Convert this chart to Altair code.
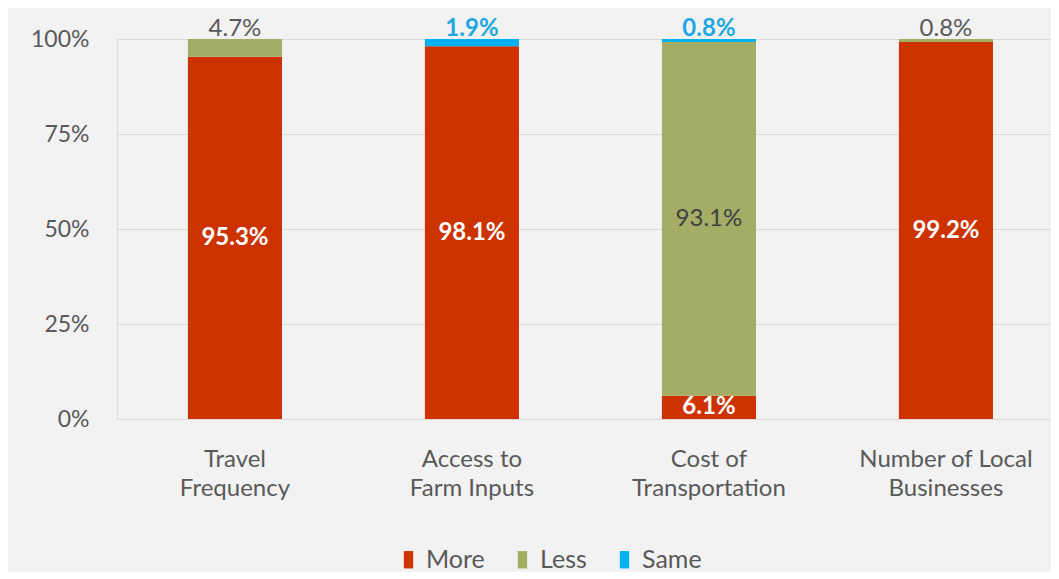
import altair as alt
import pandas as pd

categories = ["Travel|Frequency", "Access to|Farm Inputs", "Cost of|Transportation", "Number of Local|Businesses"]
series = ["More", "Less", "Same"]
more = [95.3, 98.1, 6.1, 99.2]
less = [4.7, 0.0, 93.1, 0.8]
same = [0.0, 1.9, 0.8, 0.0]
colors = ["#CC3300", "#A3AD66", "#00B0F0"]

rows = []
for i, c in enumerate(categories):
    for k, (s, vals) in enumerate(zip(series, [more, less, same])):
        rows.append({"cat": c, "series": s, "order": k, "value": vals[i]})
df = pd.DataFrame(rows)

FONT = "Lato"
GRAY = "#595959"

x_enc = alt.X("cat:N", sort=categories, title=None,
              scale=alt.Scale(paddingInner=0.603, paddingOuter=0.272, align=0.55),
              axis=alt.Axis(labelAngle=0, labelExpr="split(datum.label, '|')",
                            labelFontSize=24, labelColor=GRAY, labelPadding=28,
                            labelLineHeight=29, ticks=False, domainColor="#D9D9D9",
                            grid=False, labelFont=FONT))

base = alt.Chart(df).transform_filter("datum.value > 0")

bars = base.mark_bar().encode(
    x=x_enc,
    y=alt.Y("value:Q", stack="zero", scale=alt.Scale(domain=[0, 100]), title=None,
            axis=alt.Axis(values=[0, 25, 50, 75, 100], labelExpr="datum.value + '%'",
                          labelFontSize=23, labelColor=GRAY, labelPadding=28,
                          ticks=False, domain=False, gridColor="#D9D9D9",
                          labelFont=FONT)),
    color=alt.Color("series:N", sort=series,
                    scale=alt.Scale(domain=series, range=colors),
                    legend=alt.Legend(orient="none", legendX=279, legendY=508,
                                      direction="horizontal", title=None,
                                      symbolType="M-0.54,-1H0.54V1H-0.54Z",
                                      symbolSize=300, symbolStrokeWidth=0,
                                      labelFontSize=25, labelColor=GRAY,
                                      labelFont=FONT, labelOffset=5,
                                      columnPadding=25)),
    order=alt.Order("order:Q"),
)

lab = base.transform_stack(
    stack="value", groupby=["cat"], as_=["y0", "y1"],
    sort=[alt.SortField("order", order="ascending")]
).transform_calculate(
    mid="(datum.y0 + datum.y1) / 2",
    txt="format(datum.value, '.1f') + '%'",
)

inside_more = lab.transform_filter("datum.series == 'More' && datum.value >= 5").mark_text(
    font=FONT, fontSize=24, fontWeight="bold", color="white", baseline="middle"
).encode(x=alt.X("cat:N", sort=categories), y=alt.Y("mid:Q"), text="txt:N")

inside_less = lab.transform_filter("datum.series == 'Less' && datum.value >= 5").mark_text(
    font=FONT, fontSize=24, color="#404040", baseline="middle"
).encode(x=alt.X("cat:N", sort=categories), y=alt.Y("mid:Q"), text="txt:N")

top_less = lab.transform_filter("datum.series == 'Less' && datum.value < 5").mark_text(
    font=FONT, fontSize=24, color=GRAY, baseline="alphabetic", dy=-3
).encode(x=alt.X("cat:N", sort=categories), y=alt.datum(100), text="txt:N")

top_same = lab.transform_filter("datum.series == 'Same' && datum.value < 5").mark_text(
    font=FONT, fontSize=24, fontWeight="bold", color="#1FA8E0", baseline="alphabetic", dy=-3
).encode(x=alt.X("cat:N", sort=categories), y=alt.datum(100), text="txt:N")

chart = alt.layer(bars, inside_more, inside_less, top_less, top_same).properties(
    width=934, height=380,
    padding={"left": 109, "top": 31, "right": 0, "bottom": 153},
    autosize=alt.AutoSizeParams(type="none"),
    background="#F2F2F2",
).configure_view(stroke=None).configure(font=FONT)

chart.save("out.html", embed_options={"renderer": "svg", "actions": False})
